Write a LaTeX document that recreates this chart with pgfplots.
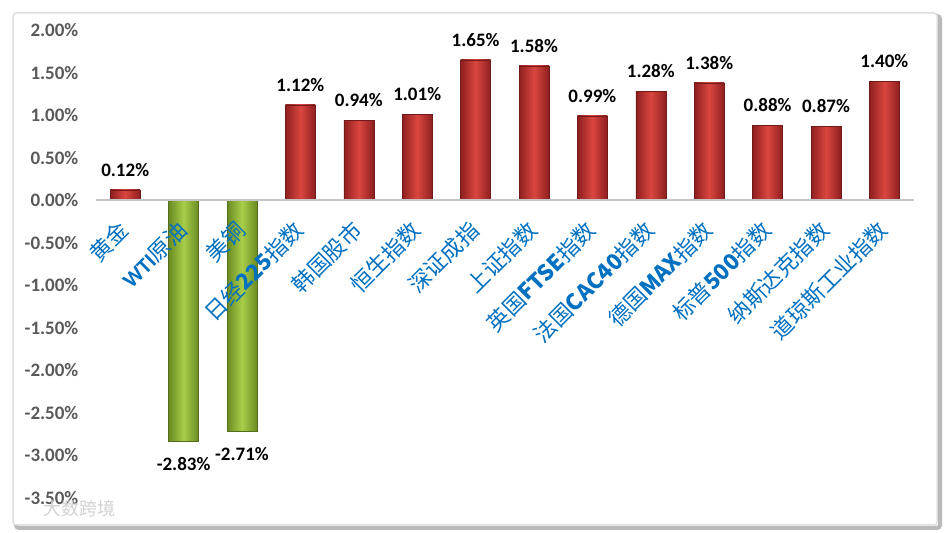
\documentclass[border=0pt]{standalone}
\usepackage{pgfplots}
\pgfplotsset{compat=1.18}
\usepackage{fontspec}
\setmainfont{Carlito}
\newfontfamily\cjk{Noto Sans CJK SC}
\definecolor{lblue}{HTML}{0070C0}
\definecolor{tgray}{HTML}{595959}
\definecolor{rdark}{HTML}{8E2020}
\definecolor{rmid}{HTML}{DA453F}
\definecolor{gdark}{HTML}{6A8A22}
\definecolor{gmid}{HTML}{A8CE4A}
\newcommand{\B}[1]{\textbf{#1}}
\pgfplotsset{
  redbar/.style={draw=rdark!80!black, left color=rdark, right color=rdark, middle color=rmid,
    every node near coord/.append style={anchor=south, yshift=10pt}},
  greenbar/.style={draw=gdark!80!black, left color=gdark, right color=gdark, middle color=gmid,
    every node near coord/.append style={anchor=north, yshift=-13pt}},
}
\begin{document}
\begin{tikzpicture}
\path[use as bounding box] (0pt,0pt) rectangle (946pt,533pt);
% frame with shadow
\draw[line width=4pt, gray!55, rounded corners=3pt] (16pt,5pt) rectangle (940pt,517pt);
\draw[line width=1.5pt, gray!25, fill=white, rounded corners=3pt] (13pt,8pt) rectangle (937pt,520pt);
\begin{axis}[
  at={(96pt,35pt)}, anchor=south west,
  scale only axis, width=817.6pt, height=468pt,
  xmin=-0.5, xmax=13.5, ymin=-3.5, ymax=2,
  axis x line=middle, axis y line=left,
  axis on top,
  x axis line style={-, draw=gray!45, line width=1.6pt},
  y axis line style={draw=none},
  every inner x axis line/.append style={-},
  tick style={draw=none},
  ytick={-3.5,-3,-2.5,-2,-1.5,-1,-0.5,0,0.5,1,1.5,2},
  yticklabels={-3.50\%,-3.00\%,-2.50\%,-2.00\%,-1.50\%,-1.00\%,-0.50\%,0.00\%,0.50\%,1.00\%,1.50\%,2.00\%},
  yticklabel style={font=\fontsize{19}{19}\selectfont\bfseries, text=tgray, xshift=-12pt},
  xtick={0,...,13},
  xticklabels={
    {\cjk 黄金},
    {\B{WTI}\cjk 原油},
    {\cjk 美铜},
    {\cjk 日经\B{225}\cjk 指数},
    {\cjk 韩国股市},
    {\cjk 恒生指数},
    {\cjk 深证成指},
    {\cjk 上证指数},
    {\cjk 英国\B{FTSE}\cjk 指数},
    {\cjk 法国\B{CAC40}\cjk 指数},
    {\cjk 德国\B{MAX}\cjk 指数},
    {\cjk 标普\B{500}\cjk 指数},
    {\cjk 纳斯达克指数},
    {\cjk 道琼斯工业指数}},
  xticklabel style={font=\fontsize{22}{22}\selectfont, text=lblue, yshift=-21pt, rotate=45, anchor=east, inner sep=1pt},
  ybar, bar width=30pt, bar shift=0pt,
  nodes near coords,
  every node near coord/.append style={font=\fontsize{19}{19}\selectfont\bfseries, text=black},
  point meta=explicit symbolic,
  clip=false,
]
\addplot[redbar] coordinates {(0,0.12)[0.12\%]};
\addplot[greenbar] coordinates {(1,-2.83)[-2.83\%]};
\addplot[greenbar] coordinates {(2,-2.71)[-2.71\%]};
\addplot[redbar] coordinates {(3,1.12)[1.12\%]};
\addplot[redbar] coordinates {(4,0.94)[0.94\%]};
\addplot[redbar] coordinates {(5,1.01)[1.01\%]};
\addplot[redbar] coordinates {(6,1.65)[1.65\%]};
\addplot[redbar] coordinates {(7,1.58)[1.58\%]};
\addplot[redbar] coordinates {(8,0.99)[0.99\%]};
\addplot[redbar] coordinates {(9,1.28)[1.28\%]};
\addplot[redbar] coordinates {(10,1.38)[1.38\%]};
\addplot[redbar] coordinates {(11,0.88)[0.88\%]};
\addplot[redbar] coordinates {(12,0.87)[0.87\%]};
\addplot[redbar] coordinates {(13,1.40)[1.40\%]};
\end{axis}
\node[text=gray!35, font=\cjk\fontsize{18}{18}\selectfont, anchor=south west] at (40pt,12pt) {大数跨境};
\end{tikzpicture}
\end{document}
